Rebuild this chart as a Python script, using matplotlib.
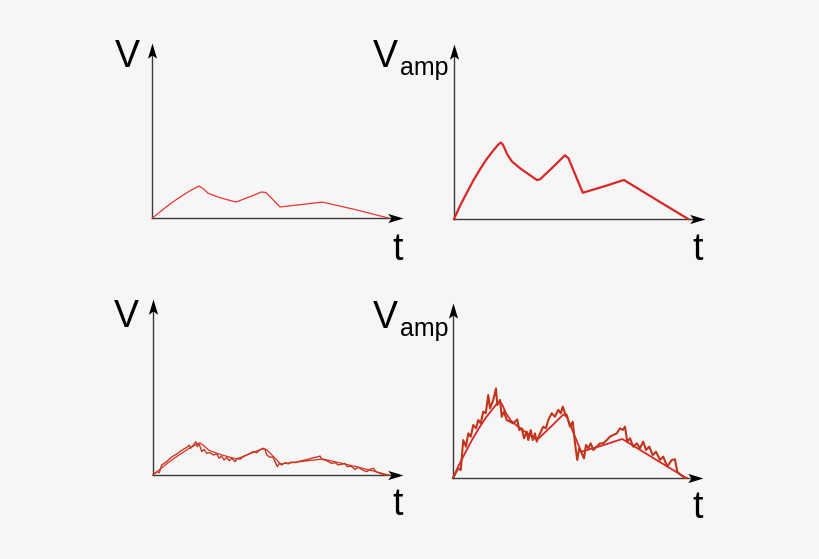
import numpy as np
import matplotlib.pyplot as plt
from matplotlib.path import Path

plt.rcParams['font.family'] = ['Liberation Sans', 'DejaVu Sans']

# smooth signal (top-left, reused bottom-left)
t_sig = [0, 0.23, 0.43, 0.70, 0.97, 1.23, 1.50, 1.70, 1.86, 2.03, 2.23, 2.70,
         3.34, 3.90, 4.37, 4.54, 4.83, 5.10, 5.90, 6.79, 8.17, 9.43]
v_sig = [0, 0.27, 0.50, 0.80, 1.07, 1.31, 1.56, 1.71, 1.83, 1.67, 1.41, 1.16,
         0.91, 1.22, 1.49, 1.45, 1.03, 0.63, 0.76, 0.91, 0.46, 0]

# amplified signal (top-right, reused bottom-right)
t_amp = [0, 0.24, 0.51, 0.77, 1.04, 1.30, 1.57, 1.73, 1.85, 1.91, 1.99, 2.10,
         2.30, 2.63, 3.30, 3.43, 3.96, 4.42, 4.56, 5.13, 5.95, 6.77, 8.07, 9.33]
v_amp = [0, 0.75, 1.50, 2.20, 2.85, 3.42, 3.92, 4.20, 4.36, 4.32, 4.13, 3.75,
         3.30, 2.90, 2.23, 2.27, 2.99, 3.64, 3.47, 1.50, 1.85, 2.23, 1.09, 0]

# noisy signal (bottom-left)
t_noisy = [0, 0.15, 0.25, 0.35, 0.44, 0.55, 0.68, 0.81, 0.95, 1.08, 1.21, 1.35,
           1.45, 1.51, 1.61, 1.72, 1.77, 1.85, 1.95, 2.04, 2.15, 2.28, 2.41, 2.55,
           2.65, 2.75, 2.84, 2.95, 3.05, 3.15, 3.28, 3.37, 3.48, 3.61, 3.75, 3.88,
           4.01, 4.15, 4.28, 4.39, 4.48, 4.55, 4.68, 4.79, 4.88, 4.97, 5.05, 5.15,
           5.28, 5.41, 5.55, 5.68, 5.81, 5.95, 6.08, 6.21, 6.35, 6.48, 6.61, 6.68,
           6.75, 6.88, 7.01, 7.15, 7.28, 7.41, 7.55, 7.68, 7.77, 7.91, 8.08, 8.21,
           8.39, 8.55, 8.68, 8.81, 8.92, 9.08, 9.28, 9.41]
v_noisy = [0, 0.19, 0.13, 0.57, 0.66, 0.76, 0.95, 1.08, 1.19, 1.33, 1.46, 1.57,
           1.70, 1.52, 1.70, 1.89, 1.61, 1.76, 1.33, 1.46, 1.23, 1.27, 1.14, 1.19,
           0.95, 1.08, 0.85, 1.00, 0.81, 0.95, 0.76, 0.95, 0.89, 1.04, 1.14, 1.23,
           1.33, 1.27, 1.42, 1.52, 1.46, 1.14, 1.00, 1.04, 0.76, 0.47, 0.66, 0.57,
           0.70, 0.63, 0.74, 0.70, 0.76, 0.81, 0.85, 0.89, 0.95, 1.00, 1.04, 1.08,
           0.89, 0.85, 0.76, 0.66, 0.70, 0.57, 0.61, 0.66, 0.47, 0.51, 0.32, 0.44,
           0.28, 0.19, 0.32, 0.38, 0.19, 0.09, 0, 0]

# noisy amplified signal (bottom-right)
t_noisy_amp = [0, 0.21, 0.31, 0.41, 0.52, 0.61, 0.71, 0.81, 0.92, 1.01, 1.11, 1.21,
               1.31, 1.41, 1.48, 1.61, 1.72, 1.77, 1.88, 1.95, 2.04, 2.15, 2.28, 2.41,
               2.57, 2.65, 2.75, 2.84, 2.95, 3.01, 3.11, 3.19, 3.28, 3.35, 3.48, 3.61,
               3.72, 3.81, 3.95, 4.08, 4.21, 4.31, 4.39, 4.48, 4.55, 4.68, 4.79, 4.88,
               4.97, 5.05, 5.15, 5.24, 5.32, 5.41, 5.51, 5.61, 5.75, 5.88, 6.01, 6.15,
               6.28, 6.41, 6.55, 6.68, 6.79, 6.88, 6.97, 7.08, 7.21, 7.35, 7.48, 7.61,
               7.72, 7.85, 7.99, 8.12, 8.28, 8.41, 8.57, 8.75, 8.88, 8.97, 9.11, 9.28,
               9.35]
v_noisy_amp = [0, 0.55, 0.46, 2.17, 1.79, 2.55, 2.36, 3.03, 2.84, 3.31, 3.12, 3.79,
               3.70, 4.74, 3.98, 4.46, 5.12, 4.17, 4.46, 3.50, 3.79, 3.31, 3.22, 3.12,
               3.35, 2.74, 2.84, 2.27, 2.65, 2.17, 2.74, 2.17, 2.55, 2.08, 2.55, 2.93,
               2.84, 3.31, 3.70, 3.50, 3.89, 3.70, 4.08, 3.70, 3.60, 2.93, 3.22, 1.98,
               1.03, 1.70, 1.41, 1.12, 1.89, 1.70, 1.98, 1.60, 1.79, 1.98, 1.98, 2.17,
               2.36, 2.46, 2.55, 2.84, 2.74, 2.93, 2.08, 2.27, 1.79, 1.98, 1.70, 2.08,
               1.60, 1.79, 1.31, 1.50, 1.03, 1.22, 0.65, 1.03, 1.07, 0.36, 0.17, 0,
               0]

W, H = 820, 559
bg = '#f6f6f6'
fig = plt.figure(figsize=(W / 100, H / 100), dpi=100, facecolor=bg)

# arrow heads (stealth shape), tip at origin
head_right = Path([(0, 0), (-1, 0.3), (-0.78, 0), (-1, -0.3), (0, 0)],
                  [Path.MOVETO, Path.LINETO, Path.LINETO, Path.LINETO, Path.CLOSEPOLY])
head_up = Path([(0, 0), (-0.3, -1), (0, -0.78), (0.3, -1), (0, 0)],
               [Path.MOVETO, Path.LINETO, Path.LINETO, Path.LINETO, Path.CLOSEPOLY])


def make_panel(box, ylab, sub=None, ylab_pos=(-1.0, 8.6), sub_pos=None, t_pos=(9.8, -2.35)):
    left, bottom, w, h = box
    ax = fig.add_axes([left / W, (H - bottom) / H, w / W, h / H])
    ax.set_xlim(0, 10)
    ax.set_ylim(0, 10)
    ax.axis('off')
    ax.plot([0, 9.7], [0, 0], color='#3a3a3a', lw=1.0, clip_on=False, zorder=1)
    ax.plot([0, 0], [0, 9.7], color='#3a3a3a', lw=1.0, clip_on=False, zorder=1)
    ax.plot([10], [0], marker=head_right, ms=22, color='black', mew=0, clip_on=False)
    ax.plot([0], [10], marker=head_up, ms=22, color='black', mew=0, clip_on=False)
    ax.text(ylab_pos[0], ylab_pos[1], ylab, fontsize=27, ha='center', va='baseline')
    if sub:
        ax.text(sub_pos[0], sub_pos[1], sub, fontsize=18, ha='left', va='baseline')
    ax.text(t_pos[0], t_pos[1], 't', fontsize=27, ha='center', va='baseline')
    return ax


ax1 = make_panel((152.5, 218, 250, 175), 'V', ylab_pos=(-1.0, 8.63), t_pos=(9.82, -2.4))
ax1.plot(t_sig, v_sig, color='#e8352f', lw=0.9, clip_on=False, zorder=2)

ax2 = make_panel((454, 219, 251, 175), 'V', 'amp', ylab_pos=(-2.73, 8.69),
                 sub_pos=(-2.15, 8.2), t_pos=(9.72, -2.34))
ax2.plot(t_amp, v_amp, color='#d92626', lw=1.6, clip_on=False, zorder=2)

ax3 = make_panel((153, 475, 250, 176), 'V', ylab_pos=(-1.06, 8.41), t_pos=(9.8, -2.27))
ax3.plot(t_sig, v_sig, color='#d9302a', lw=0.9, clip_on=False, zorder=2)
ax3.plot(t_noisy, v_noisy, color='#c23a1e', lw=1.0, clip_on=False, zorder=3)

ax4 = make_panel((453, 478, 250, 175), 'V', 'amp', ylab_pos=(-2.7, 8.57),
                 sub_pos=(-2.12, 8.11), t_pos=(9.8, -2.29))
ax4.plot(t_amp, v_amp, color='#d92626', lw=1.3, clip_on=False, zorder=2)
ax4.plot(t_noisy_amp, v_noisy_amp, color='#c0361a', lw=1.5, clip_on=False, zorder=3)

fig.savefig('out.png', dpi=100, facecolor=bg)
